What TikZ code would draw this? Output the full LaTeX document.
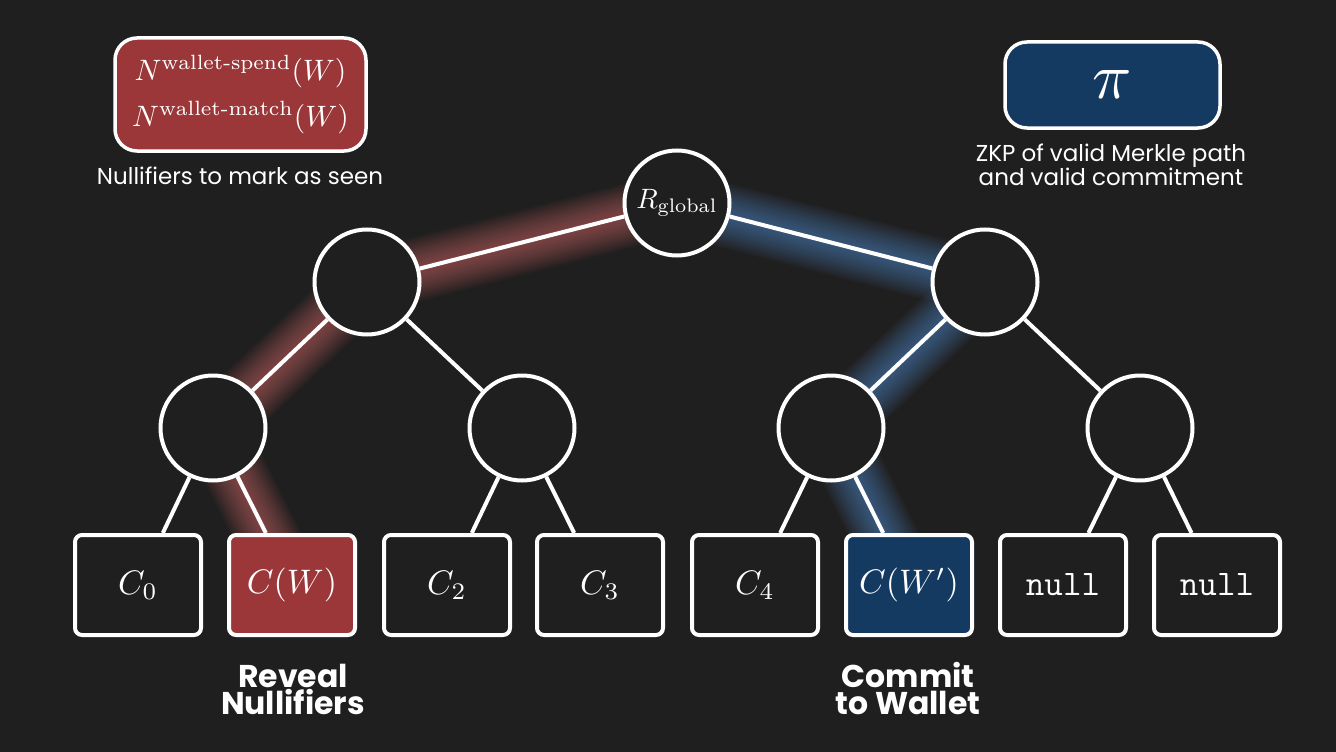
\documentclass[tikz,border=0pt]{standalone}
\usepackage{amsmath}
\usepackage{graphicx}
\usepackage{fontspec}
\newfontfamily\popfont{Poppins}
\usetikzlibrary{calc}
\pgfdeclarelayer{bgl}
\pgfdeclarelayer{glowl}
\pgfsetlayers{bgl,glowl,main}
\definecolor{bg}{RGB}{31,31,31}
\definecolor{redf}{RGB}{155,55,57}
\definecolor{bluef}{RGB}{20,58,98}
\definecolor{redglow}{RGB}{235,120,120}
\definecolor{blueglow}{RGB}{100,160,230}
\newcommand\glowline[3]{%
  \foreach \w in {64,61,...,4}{%
    \draw[#1, line width=\w pt, opacity=0.033] (#2.center) -- (#3.center);}}
\newcommand\mathbig[2]{\scalebox{#1}{$#2$}}
\begin{document}
\begin{tikzpicture}[x=1pt,y=-1pt,
  circ/.style={circle, draw=white, line width=4pt, fill=bg, minimum size=105pt, inner sep=0pt, text=white},
  leaf/.style={rectangle, rounded corners=7pt, draw=white, line width=4pt, fill=bg, minimum width=126pt, minimum height=100pt, inner sep=0pt, text=white},
  nulltext/.style={font=\ttfamily\fontsize{36}{40}\selectfont},
  edge/.style={draw=white, line width=4pt},
  rbox/.style={rectangle, rounded corners=22pt, draw=white, line width=3.5pt, fill=redf, minimum width=251pt, minimum height=113pt, inner sep=0pt, text=white, align=center},
  bbox/.style={rectangle, rounded corners=22pt, draw=white, line width=3.5pt, fill=bluef, minimum width=215pt, minimum height=86pt, inner sep=0pt, text=white},
  captext/.style={text=white, align=center, inner sep=0pt, font=\popfont\fontsize{23}{22}\selectfont},
  labtext/.style={text=white, align=center, inner sep=0pt, font=\popfont\bfseries\fontsize{31.5}{27}\selectfont}
]
\begin{pgfonlayer}{bgl}
\fill[bg] (0,0) rectangle (1336,752);
\end{pgfonlayer}
\useasboundingbox (0,0) rectangle (1336,752);

% tree nodes
\node[circ] (r) at (677,203) {\mathbig{2.8}{R_{\mathrm{global}}}};
\node[circ] (a) at (367,282) {};
\node[circ] (b) at (985,282) {};
\node[circ] (c1) at (213,428) {};
\node[circ] (c2) at (522,428) {};
\node[circ] (c3) at (831,428) {};
\node[circ] (c4) at (1140,428) {};

\node[leaf] (l0) at (138,585) {\mathbig{3.4}{C_0}};
\node[leaf, fill=redf] (l1) at (292,585) {\mathbig{3.4}{C(W)}};
\node[leaf] (l2) at (447,585) {\mathbig{3.4}{C_2}};
\node[leaf] (l3) at (600,585) {\mathbig{3.4}{C_3}};
\node[leaf] (l4) at (755,585) {\mathbig{3.4}{C_4}};
\node[leaf, fill=bluef] (l5) at (909,585) {\mathbig{3.4}{C(W')}};
\node[leaf, nulltext] (l6) at (1063,585) {null};
\node[leaf, nulltext] (l7) at (1217,585) {null};

% glows
\begin{pgfonlayer}{glowl}
\glowline{redglow}{r}{a}
\glowline{redglow}{a}{c1}
\glowline{redglow}{c1}{l1}
\glowline{blueglow}{r}{b}
\glowline{blueglow}{b}{c3}
\glowline{blueglow}{c3}{l5}
\end{pgfonlayer}

% edges
\draw[edge] (r) -- (a);
\draw[edge] (r) -- (b);
\draw[edge] (a) -- (c1);
\draw[edge] (a) -- (c2);
\draw[edge] (b) -- (c3);
\draw[edge] (b) -- (c4);
\draw[edge] (c1) -- (l0);
\draw[edge] (c1) -- (l1);
\draw[edge] (c2) -- (l2);
\draw[edge] (c2) -- (l3);
\draw[edge] (c3) -- (l4);
\draw[edge] (c3) -- (l5);
\draw[edge] (c4) -- (l6);
\draw[edge] (c4) -- (l7);

% top boxes
\node[rbox] (nbox) at (240.5,94.5) {\mathbig{2.95}{N^{\mathrm{wallet}\text{-}\mathrm{spend}}(W)}\\[12pt]\mathbig{2.95}{N^{\mathrm{wallet}\text{-}\mathrm{match}}(W)}};
\node[captext] (ncap) at (240,176) {Nullifiers to mark as seen};
\node[bbox] (pibox) at (1112.5,85) {\mathbig{6.5}{\pi}};
\node[captext] (zcap) at (1111,165) {ZKP of valid Merkle path\\and valid commitment};

% labels
\node[labtext] (rev) at (293,689) {Reveal\\Nullifiers};
\node[labtext] (com) at (908,689) {Commit\\to Wallet};
\end{tikzpicture}
\end{document}
